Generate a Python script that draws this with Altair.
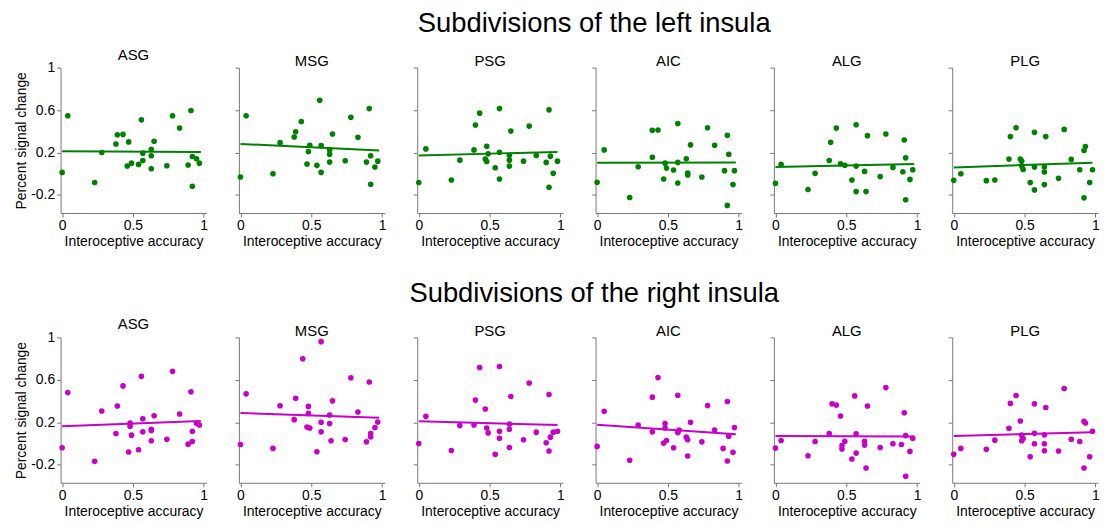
import altair as alt
import pandas as pd

REGIONS = ["ASG", "MSG", "PSG", "AIC", "ALG", "PLG"]
ROW_TITLES = ["Subdivisions of the left insula", "Subdivisions of the right insula"]
X_TICKS = [0, 0.5, 1]
Y_TICKS = [-0.2, 0.2, 0.6, 1]
FIT_X = [0.0, 0.98]

left_ASG = [(0.00, 0.013), (0.04, 0.546), (0.23, -0.083), (0.28, 0.20), (0.38, 0.281), (0.39, 0.368),
            (0.43, 0.371), (0.46, 0.072), (0.47, 0.30), (0.49, 0.10), (0.54, 0.088), (0.56, 0.508),
            (0.57, 0.125), (0.57, 0.194), (0.63, 0.231), (0.63, 0.169), (0.63, 0.047), (0.65, 0.306),
            (0.74, 0.075), (0.78, 0.546), (0.83, 0.43), (0.89, 0.082), (0.91, 0.596), (0.92, -0.118),
            (0.92, 0.163), (0.95, 0.141), (0.97, 0.10)]
left_MSG = [(0.00, -0.03), (0.04, 0.546), (0.23, 0.0), (0.28, 0.293), (0.38, 0.346), (0.39, 0.396),
            (0.43, 0.493), (0.47, 0.091), (0.48, 0.209), (0.49, 0.268), (0.54, 0.079), (0.56, 0.692),
            (0.57, 0.013), (0.57, 0.265), (0.63, 0.225), (0.63, 0.184), (0.63, 0.11), (0.65, 0.374),
            (0.74, 0.122), (0.78, 0.533), (0.83, 0.343), (0.89, 0.11), (0.91, 0.614), (0.92, -0.099),
            (0.92, 0.169), (0.95, 0.063), (0.97, 0.119)]
left_PSG = [(0.00, -0.083), (0.05, 0.234), (0.23, -0.059), (0.29, 0.128), (0.39, 0.225), (0.40, 0.459),
            (0.43, 0.571), (0.47, 0.138), (0.48, 0.259), (0.48, 0.116), (0.49, 0.188), (0.54, 0.057),
            (0.57, 0.614), (0.57, -0.049), (0.57, 0.203), (0.64, 0.175), (0.64, 0.128), (0.64, 0.072),
            (0.65, 0.402), (0.74, 0.119), (0.78, 0.449), (0.83, 0.172), (0.90, 0.107), (0.92, 0.602),
            (0.92, -0.127), (0.93, 0.166), (0.95, 0.004), (0.98, 0.119)]
left_AIC = [(0.00, -0.08), (0.05, 0.225), (0.23, -0.224), (0.29, 0.066), (0.39, 0.156), (0.39, 0.409),
            (0.43, 0.412), (0.47, -0.049), (0.48, 0.10), (0.49, 0.054), (0.54, 0.035), (0.57, 0.474),
            (0.57, -0.087), (0.57, 0.107), (0.63, 0.141), (0.64, 0.007), (0.64, -0.012), (0.66, 0.272),
            (0.74, -0.031), (0.78, 0.434), (0.83, 0.269), (0.90, 0.029), (0.92, 0.362), (0.92, -0.298),
            (0.93, 0.184), (0.96, -0.102), (0.97, 0.029)]
left_ALG = [(0.00, -0.09), (0.04, 0.088), (0.23, -0.149), (0.28, 0.004), (0.38, 0.125), (0.39, 0.296),
            (0.43, 0.43), (0.46, 0.094), (0.49, 0.079), (0.54, -0.059), (0.57, 0.462), (0.57, -0.168),
            (0.57, 0.072), (0.63, 0.022), (0.64, -0.168), (0.65, 0.359), (0.74, -0.027), (0.78, 0.374),
            (0.83, 0.06), (0.90, 0.019), (0.91, 0.318), (0.92, -0.245), (0.92, 0.15), (0.95, -0.053),
            (0.97, 0.038)]
left_PLG = [(0.00, -0.062), (0.05, 0.0), (0.23, -0.065), (0.29, -0.059), (0.39, 0.138), (0.40, 0.35),
            (0.44, 0.434), (0.47, 0.138), (0.48, 0.119), (0.48, 0.072), (0.49, 0.041), (0.54, -0.083),
            (0.57, 0.39), (0.57, 0.063), (0.57, -0.152), (0.64, 0.063), (0.64, 0.016), (0.64, -0.102),
            (0.65, 0.35), (0.74, -0.043), (0.78, 0.418), (0.83, 0.135), (0.89, 0.038), (0.92, 0.219),
            (0.93, 0.256), (0.92, -0.227), (0.96, -0.083), (0.98, 0.038)]

right_ASG = [(0.00, -0.04), (0.04, 0.48), (0.23, -0.168), (0.28, 0.306), (0.38, 0.094), (0.39, 0.353),
             (0.43, 0.543), (0.47, -0.08), (0.48, 0.194), (0.48, 0.163), (0.49, 0.079), (0.54, -0.059),
             (0.56, 0.633), (0.57, 0.234), (0.57, 0.11), (0.63, 0.135), (0.63, 0.122), (0.63, 0.026),
             (0.65, 0.262), (0.74, 0.041), (0.78, 0.68), (0.83, 0.278), (0.89, -0.006), (0.91, 0.487),
             (0.92, 0.019), (0.92, 0.116), (0.95, 0.19), (0.97, 0.175)]
right_MSG = [(0.00, -0.009), (0.04, 0.468), (0.23, -0.046), (0.28, 0.356), (0.38, 0.225), (0.39, 0.427),
             (0.44, 0.798), (0.47, 0.156), (0.48, 0.35), (0.48, 0.284), (0.49, 0.147), (0.54, -0.077),
             (0.57, 0.96), (0.57, 0.2), (0.57, 0.11), (0.63, 0.269), (0.63, 0.188), (0.64, 0.026),
             (0.65, 0.402), (0.74, 0.038), (0.78, 0.62), (0.83, 0.297), (0.89, 0.016), (0.91, 0.58),
             (0.92, 0.063), (0.92, 0.094), (0.95, 0.15), (0.97, 0.203)]
right_PSG = [(0.00, 0.0), (0.05, 0.256), (0.23, -0.065), (0.29, 0.169), (0.39, 0.175), (0.40, 0.409),
             (0.43, 0.717), (0.47, 0.325), (0.48, 0.147), (0.49, 0.10), (0.54, -0.102), (0.57, 0.726),
             (0.57, 0.05), (0.57, 0.116), (0.64, 0.184), (0.64, 0.135), (0.64, -0.037), (0.65, 0.443),
             (0.74, 0.035), (0.78, 0.571), (0.83, 0.107), (0.90, 0.007), (0.92, 0.462), (0.92, -0.071),
             (0.93, 0.06), (0.95, 0.107), (0.98, 0.116)]
right_AIC = [(0.00, -0.027), (0.05, 0.303), (0.23, -0.158), (0.29, 0.175), (0.39, 0.11), (0.39, 0.437),
             (0.43, 0.621), (0.47, 0.004), (0.48, 0.188), (0.48, 0.147), (0.49, 0.029), (0.54, -0.04),
             (0.57, 0.455), (0.57, 0.103), (0.58, 0.128), (0.63, 0.06), (0.64, 0.035), (0.64, -0.118),
             (0.66, 0.2), (0.74, 0.016), (0.78, 0.359), (0.83, 0.128), (0.89, -0.046), (0.92, 0.396),
             (0.92, -0.165), (0.93, 0.069), (0.96, -0.083), (0.97, 0.15)]
right_ALG = [(0.00, -0.043), (0.04, 0.029), (0.23, -0.115), (0.28, 0.019), (0.38, 0.094), (0.40, 0.374),
             (0.43, 0.362), (0.46, 0.259), (0.47, -0.018), (0.47, -0.052), (0.49, 0.022), (0.54, -0.146),
             (0.56, 0.449), (0.57, -0.09), (0.57, 0.091), (0.63, 0.022), (0.63, -0.015), (0.64, -0.23),
             (0.65, 0.353), (0.74, -0.037), (0.78, 0.527), (0.83, -0.002), (0.89, -0.009), (0.91, 0.29),
             (0.92, -0.308), (0.92, 0.075), (0.95, -0.074), (0.97, 0.05)]
right_PLG = [(0.00, -0.102), (0.05, -0.046), (0.23, -0.055), (0.29, 0.032), (0.39, 0.144), (0.40, 0.378),
             (0.44, 0.452), (0.47, 0.212), (0.48, 0.079), (0.48, 0.026), (0.49, 0.047), (0.54, -0.124),
             (0.57, 0.374), (0.57, 0.097), (0.57, -0.002), (0.64, 0.082), (0.64, -0.002), (0.64, -0.068),
             (0.65, 0.34), (0.74, -0.071), (0.78, 0.518), (0.83, 0.041), (0.89, 0.019), (0.92, 0.209),
             (0.93, 0.194), (0.92, -0.23), (0.96, -0.124), (0.98, 0.116)]

# regression line: fitted value at x = 0 and at x = 0.98
left_fit = [(0.212, 0.206), (0.281, 0.219), (0.172, 0.206), (0.103, 0.107), (0.063, 0.091), (0.060, 0.103)]
right_fit = [(0.163, 0.212), (0.287, 0.244), (0.209, 0.175), (0.178, 0.088), (0.072, 0.066), (0.072, 0.107)]

left_points = [left_ASG, left_MSG, left_PSG, left_AIC, left_ALG, left_PLG]
right_points = [right_ASG, right_MSG, right_PSG, right_AIC, right_ALG, right_PLG]

GREEN = "#008000"
MAGENTA = "#C800C8"
FONT = "Liberation Sans"
PW, PH = 147, 146.6


def panel(points, fit, name, color, first):
    pts = pd.DataFrame(points, columns=["x", "y"])
    line = pd.DataFrame({"x": FIT_X, "y": list(fit)})
    xs = alt.Scale(domain=[-0.011, 1.019], nice=False, zero=False)
    ys = alt.Scale(domain=[-0.37, 1.0], nice=False, zero=False)
    xax = alt.Axis(values=X_TICKS, title="Interoceptive accuracy", labelExpr="toString(datum.value)")
    if first:
        yax = alt.Axis(values=Y_TICKS, title="Percent signal change", labelExpr="toString(datum.value)")
    else:
        yax = alt.Axis(values=Y_TICKS, title=None, labels=False)
    enc = dict(x=alt.X("x:Q", scale=xs, axis=xax), y=alt.Y("y:Q", scale=ys, axis=yax))
    dots = alt.Chart(pts).mark_circle(size=32, color=color, opacity=1).encode(**enc)
    fitl = alt.Chart(line).mark_line(color=color, strokeWidth=2).encode(**enc)
    return alt.layer(dots, fitl).properties(
        width=PW, height=PH,
        title=alt.Title(name, fontSize=15, fontWeight="normal", font=FONT, color="black", offset=-2),
    )


def row(points_list, fits, color, title):
    panels = [panel(p, f, n, color, i == 0) for i, (p, f, n) in enumerate(zip(points_list, fits, REGIONS))]
    return alt.hconcat(*panels, spacing=32.8, bounds="flush",
                       title=alt.Title(title, fontSize=27.6, fontWeight="normal", font=FONT, color="black",
                                       anchor="middle", dx=37.5, offset=10))


chart = alt.vconcat(
    row(left_points, left_fit, GREEN, ROW_TITLES[0]),
    row(right_points, right_fit, MAGENTA, ROW_TITLES[1]),
    spacing=31,
).properties(
    padding={"left": 6, "top": 0, "right": 0, "bottom": 0}
).configure(
    style={"group-title": {"fontWeight": "normal", "fontSize": 15}}
).configure_view(stroke=None).configure_title(
    fontWeight="normal", font=FONT, color="black"
).configure_axis(
    grid=False, domainColor="#777777", tickColor="#777777", tickSize=4,
    labelFont=FONT, labelFontSize=14, labelColor="black", labelPadding=2,
    titleFont=FONT, titleFontSize=14, titleFontWeight="normal", titleColor="black", titlePadding=2,
)

chart.save("out.html", embed_options={"renderer": "svg", "actions": False})
